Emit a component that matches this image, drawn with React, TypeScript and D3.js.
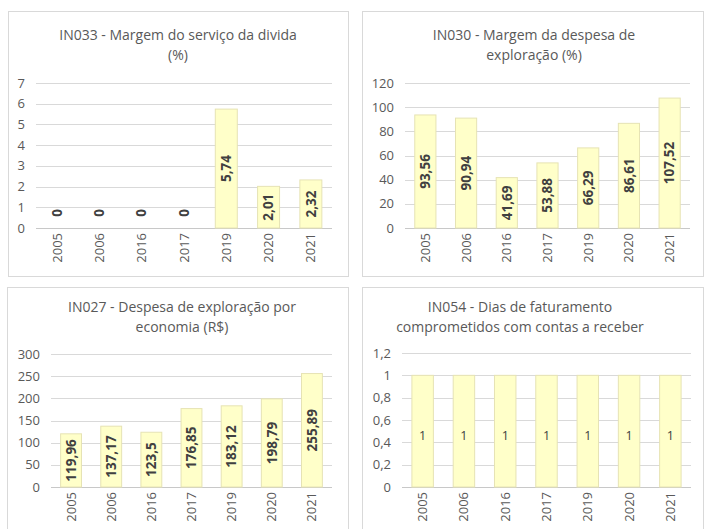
import React from "react";
import * as d3 from "d3";

const years = ["2005", "2006", "2016", "2017", "2019", "2020", "2021"];
const in033 = [0, 0, 0, 0, 5.74, 2.01, 2.32];
const in030 = [93.56, 90.94, 41.69, 53.88, 66.29, 86.61, 107.52];
const in027 = [119.96, 137.17, 123.5, 176.85, 183.12, 198.79, 255.89];
const in054 = [1, 1, 1, 1, 1, 1, 1];

const ticks033 = [0, 1, 2, 3, 4, 5, 6, 7];
const ticks030 = [0, 20, 40, 60, 80, 100, 120];
const ticks027 = [0, 50, 100, 150, 200, 250, 300];
const ticks054 = [0, 0.2, 0.4, 0.6, 0.8, 1, 1.2];

const title033 = ["IN033 - Margem do serviço da divida", "(%)"];
const title030 = ["IN030 - Margem da despesa de", "exploração (%)"];
const title027 = ["IN027 - Despesa de exploração por", "economia (R$)"];
const title054 = ["IN054 - Dias de faturamento", "comprometidos com contas a receber"];

const FONT = "'Open Sans', 'DejaVu Sans', sans-serif";
const fmt = (v: number) => String(v).replace(".", ",");

type Layout = {
  box: { x: number; y: number; w: number; h: number };
  x0: number; x1: number; y0: number; y1: number;
  titleX: number; titleY: number;
  rotateLabels: boolean;
};

function Panel({ values, ticks, title, layout }: { values: number[]; ticks: number[]; title: string[]; layout: Layout }) {
  const { box, x0, x1, y0, y1, titleX, titleY, rotateLabels } = layout;
  const x = d3.scaleBand<string>().domain(years).range([x0, x1]).paddingInner(0.48).paddingOuter(0.24);
  const y = d3.scaleLinear().domain([0, d3.max(ticks) as number]).range([y1, y0]);
  const bw = x.bandwidth();
  return (
    <g>
      <rect x={box.x + 0.5} y={box.y + 0.5} width={box.w} height={box.h} fill="#fff" stroke="#d9d9d9" strokeWidth={1} />
      {title.map((t, i) => (
        <text key={i} x={titleX} y={titleY + i * 20} dy="0.35em" textAnchor="middle" fontSize={14} fill="#595959" fontFamily={FONT}>{t}</text>
      ))}
      {ticks.map((t) => (
        <g key={t}>
          <line x1={x0} x2={x1} y1={Math.round(y(t)) + 0.5} y2={Math.round(y(t)) + 0.5} stroke={t === 0 ? "#c8c8c8" : "#d9d9d9"} strokeWidth={1} />
          <text x={x0 - 11} y={y(t)} dy="0.35em" textAnchor="end" fontSize={13} fill="#595959" fontFamily={FONT}>{fmt(t)}</text>
        </g>
      ))}
      {values.map((v, i) => {
        const top = y(v);
        return (
          <rect key={"b" + i} x={x(years[i]) as number} y={top} width={bw} height={y1 - top} fill="#ffffc9" stroke="#e6e3b4" strokeWidth={1} />
        );
      })}
      {values.map((v, i) => {
        const cx = (x(years[i]) as number) + bw / 2;
        const mid = Math.min((y(v) + y1) / 2, y1 - 15);
        return rotateLabels ? (
          <text key={"l" + i} transform={`translate(${cx},${mid}) rotate(-90)`} dy="0.35em" textAnchor="middle" fontSize={13.5} fontWeight="bold" fill="#404040" fontFamily={FONT}>{fmt(v)}</text>
        ) : (
          <text key={"l" + i} x={cx} y={mid + 4} dy="0.35em" textAnchor="middle" fontSize={12.5} fill="#404040" fontFamily={FONT}>{fmt(v)}</text>
        );
      })}
      {years.map((yr) => {
        const cx = (x(yr) as number) + bw / 2;
        return (
          <text key={"x" + yr} transform={`translate(${cx},${y1 + 5}) rotate(-90)`} dy="0.35em" textAnchor="end" fontSize={13} fill="#595959" fontFamily={FONT}>{yr}</text>
        );
      })}
    </g>
  );
}

const L1: Layout = { box: { x: 8, y: 11, w: 340, h: 265 }, x0: 36, x1: 332, y0: 83, y1: 228, titleX: 178, titleY: 35, rotateLabels: true };
const L2: Layout = { box: { x: 362, y: 11, w: 341, h: 265 }, x0: 405, x1: 690, y0: 83, y1: 228, titleX: 534, titleY: 35, rotateLabels: true };
const L3: Layout = { box: { x: 7, y: 287, w: 341, h: 250 }, x0: 51, x1: 332, y0: 354, y1: 487, titleX: 182, titleY: 307, rotateLabels: true };
const L4: Layout = { box: { x: 362, y: 287, w: 341, h: 250 }, x0: 402, x1: 691, y0: 353, y1: 487, titleX: 520, titleY: 307, rotateLabels: false };

export default function App() {
  return (
    <svg width={705} height={529} style={{ position: "absolute", left: 0, top: 0, background: "#fff" }}>
      <rect width={705} height={529} fill="#fff" />
      <Panel values={in033} ticks={ticks033} title={title033} layout={L1} />
      <Panel values={in030} ticks={ticks030} title={title030} layout={L2} />
      <Panel values={in027} ticks={ticks027} title={title027} layout={L3} />
      <Panel values={in054} ticks={ticks054} title={title054} layout={L4} />
    </svg>
  );
}
